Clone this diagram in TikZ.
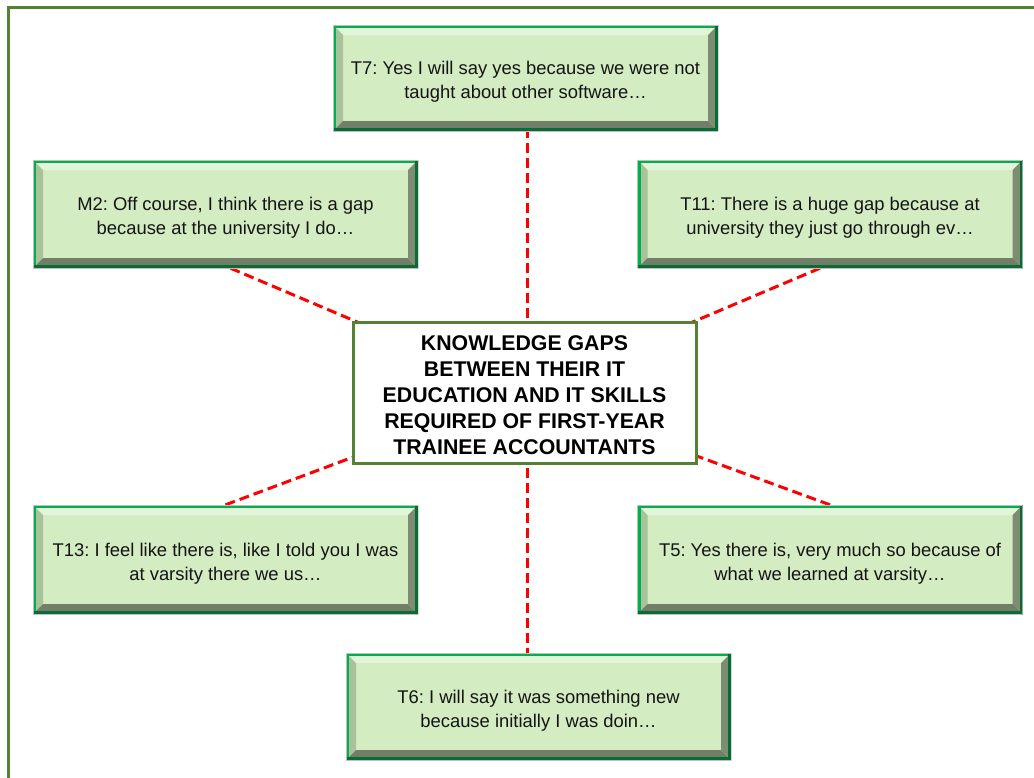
\documentclass[tikz,border=0pt]{standalone}
\usepackage{fontspec}
\setmainfont{Liberation Sans}
\usetikzlibrary{backgrounds}
\frenchspacing
\definecolor{frameGreen}{HTML}{548235}
\definecolor{faceGreen}{HTML}{D3ECC2}
\definecolor{bevTop}{HTML}{E2F5D6}
\definecolor{bevLeft}{HTML}{A9C29B}
\definecolor{bevBottom}{HTML}{727F68}
\definecolor{bevRight}{HTML}{7D8D73}
\definecolor{edgeLight}{HTML}{00B050}
\definecolor{edgeDark}{HTML}{0B6B36}
\definecolor{haloGray}{HTML}{BFBFBF}
\definecolor{textDark}{HTML}{141414}
\tikzset{
  x=1pt, y=-1pt,
  quote/.style={
    minimum width=385pt, minimum height=107pt, inner sep=0pt,
    align=center, text=textDark, fill=faceGreen,
    font=\fontsize{18.4}{24}\selectfont,
    % a tall invisible strut sets the two lines a little lower in the box
    execute at begin node={\rule{0pt}{45.5pt}},
    path picture={
      \def\pb{path picture bounding box}
      % bevelled rim: top, left, bottom, right
      \fill[bevTop] (\pb.north west) -- (\pb.north east)
        -- ([xshift=-10pt,yshift=-10pt]\pb.north east)
        -- ([xshift=10pt,yshift=-10pt]\pb.north west) -- cycle;
      \fill[bevLeft] (\pb.north west) -- ([xshift=10pt,yshift=-10pt]\pb.north west)
        -- ([xshift=10pt,yshift=10pt]\pb.south west) -- (\pb.south west) -- cycle;
      \fill[bevBottom] (\pb.south west) -- ([xshift=10pt,yshift=10pt]\pb.south west)
        -- ([xshift=-10pt,yshift=10pt]\pb.south east) -- (\pb.south east) -- cycle;
      \fill[bevRight] (\pb.south east) -- ([xshift=-10pt,yshift=10pt]\pb.south east)
        -- ([xshift=-10pt,yshift=-10pt]\pb.north east) -- (\pb.north east) -- cycle;
      % outer edge, light on top/left, dark on bottom/right
      \draw[edgeLight, line width=6pt] (\pb.south west) -- (\pb.north west) -- (\pb.north east);
      \draw[edgeDark, line width=6pt] (\pb.north east) -- (\pb.south east) -- (\pb.south west);
      \draw[haloGray, line width=1pt] (\pb.south west) rectangle (\pb.north east);
    }
  },
  hub/.style={
    draw=frameGreen, line width=3pt, fill=white,
    minimum width=343pt, minimum height=141pt, inner sep=0pt,
    align=center, text=black,
    font=\bfseries\fontsize{21.3}{25.8}\selectfont,
    execute at begin node={\rule{0pt}{122.5pt}}
  },
  link/.style={red, line width=3pt, dash pattern=on 10pt off 5pt}
}
\begin{document}
\begin{tikzpicture}
\useasboundingbox (0,0) rectangle (1034,777);
% outer frame
\draw[frameGreen, line width=3pt] (8.5,7.5) rectangle (1050,795);

\node[hub] (hub) at (524.5,393)
  {KNOWLEDGE GAPS\\BETWEEN THEIR IT\\EDUCATION AND IT SKILLS\\REQUIRED OF FIRST-YEAR\\TRAINEE ACCOUNTANTS};

\node[quote, minimum height=106pt] (t7) at (525.5,78)
  {T7: Yes I will say yes because we were not\\taught about other software…};
\node[quote, minimum height=108pt] (m2) at (225.5,214)
  {M2: Off course, I think there is a gap\\because at the university I do…};
\node[quote, minimum height=108pt] (t11) at (830,214)
  {T11: There is a huge gap because at\\university they just go through ev…};
\node[quote, minimum height=109pt] (t13) at (225.5,559.5)
  {T13: I feel like there is, like I told you I was\\at varsity there we us…};
\node[quote, minimum height=109pt] (t5) at (830,559.5)
  {T5: Yes there is, very much so because of\\what we learned at varsity…};
\node[quote] (t6) at (538.5,706.5)
  {T6: I will say it was something new\\because initially I was doin…};

% dashed spokes, tucked behind the boxes
\begin{scope}[on background layer]
  \draw[link] ([xshift=2.5pt]hub.center) -- ([xshift=2.5pt]hub.center |- t7.south);
  \draw[link] ([xshift=2.5pt]hub.center) -- ([xshift=2.5pt]hub.center |- t6.north);
  \draw[link] ([xshift=5pt]m2.south) -- (hub.center);
  \draw[link] ([xshift=-10pt]t11.south) -- (hub.center);
  \draw[link] (t13.north) -- (hub.center);
  \draw[link] (t5.north) -- (hub.center);
\end{scope}
\end{tikzpicture}
\end{document}
